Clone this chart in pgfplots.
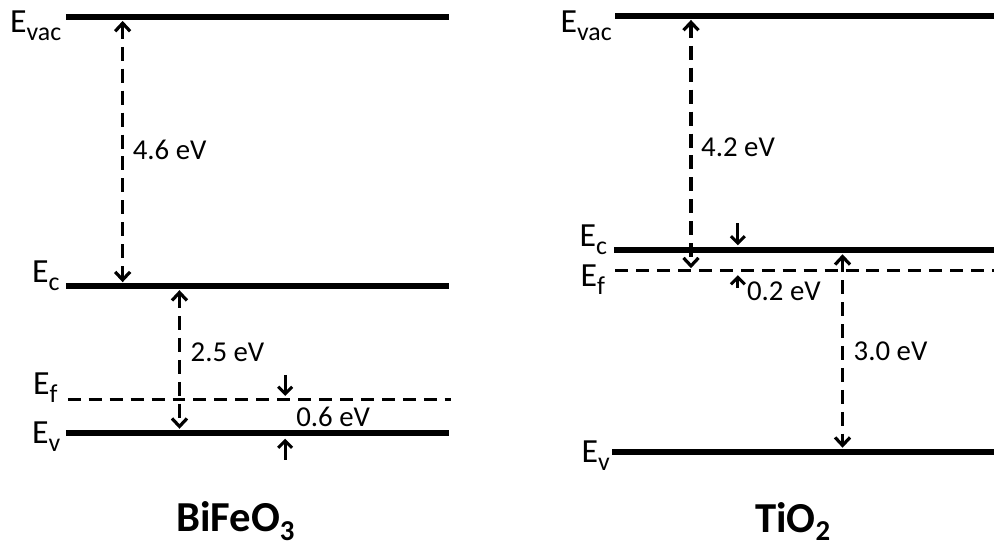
\documentclass[border=0pt]{standalone}
\usepackage{fontspec}
\setmainfont{Carlito}
\usepackage{pgfplots}
\pgfplotsset{compat=1.18}
\usetikzlibrary{arrows.meta}
\newcommand{\lvl}[1]{{\fontsize{34}{34}\selectfont E\raisebox{-8bp}{\fontsize{26}{26}\selectfont #1}}}
\newcommand{\ev}[1]{{\fontsize{29}{29}\selectfont #1}}
\begin{document}
\begin{tikzpicture}
\begin{axis}[scale only axis, width=997bp, height=552bp,
  xmin=0, xmax=997, ymin=0, ymax=552, y dir=reverse,
  hide axis, clip=false]
\addplot[draw=none, forget plot] coordinates {(0,0) (997,552)};
% ---- BiFeO3 levels
\addplot[black, line width=5.8bp] coordinates {(66,17) (450,17)};
\addplot[black, line width=5.8bp] coordinates {(66,287) (450,287)};
\addplot[black, line width=3.2bp, dash pattern=on 13bp off 8bp] coordinates {(68,401) (452,401)};
\addplot[black, line width=5.8bp] coordinates {(66,434) (450,434)};
% ---- TiO2 levels
\addplot[black, line width=5.8bp] coordinates {(617,16) (997,16)};
\addplot[black, line width=5.8bp] coordinates {(616,251) (997,251)};
\addplot[black, line width=3.2bp, dash pattern=on 13bp off 8bp] coordinates {(617,271) (997,271)};
\addplot[black, line width=5.8bp] coordinates {(614,453) (997,453)};
% ---- dashed double arrows
\pgfplotsset{darr/.style={black, line width=3.2bp, dash pattern=on 14bp off 8bp,
  {Straight Barb[length=8bp,width=15bp]}-{Straight Barb[length=8bp,width=15bp]}}}
\addplot[darr] coordinates {(123,21) (123,283)};
\addplot[darr] coordinates {(180,291) (180,430)};
\addplot[darr] coordinates {(693,20) (693,269)};
\addplot[darr] coordinates {(845,255) (845,449)};
% ---- small solid arrows
\pgfplotsset{sarr/.style={black, line width=3bp, -{Straight Barb[length=7bp,width=14bp]}}}
\addplot[sarr] coordinates {(286,376) (286,397)};
\addplot[sarr] coordinates {(286,461) (286,440)};
\addplot[sarr] coordinates {(740,224) (740,246)};
\addplot[sarr] coordinates {(740,289) (740,276)};
% ---- labels
\node[anchor=base west, inner sep=0] at (axis cs:10,33) {\lvl{vac}};
\node[anchor=base west, inner sep=0] at (axis cs:32,283) {\lvl{c}};
\node[anchor=base west, inner sep=0] at (axis cs:33,396) {\lvl{f}};
\node[anchor=base west, inner sep=0] at (axis cs:32,445) {\lvl{v}};
\node[anchor=base west, inner sep=0] at (axis cs:562,33) {\lvl{vac}};
\node[anchor=base west, inner sep=0] at (axis cs:581,247) {\lvl{c}};
\node[anchor=base west, inner sep=0] at (axis cs:582,287) {\lvl{f}};
\node[anchor=base west, inner sep=0] at (axis cs:583,464) {\lvl{v}};
\node[anchor=west, inner sep=0] at (axis cs:133,150) {\ev{4.6 eV}};
\node[anchor=west, inner sep=0] at (axis cs:191,353) {\ev{2.5 eV}};
\node[anchor=west, inner sep=0] at (axis cs:297,418) {\ev{0.6 eV}};
\node[anchor=west, inner sep=0] at (axis cs:703,148) {\ev{4.2 eV}};
\node[anchor=west, inner sep=0] at (axis cs:856,352) {\ev{3.0 eV}};
\node[anchor=west, inner sep=0] at (axis cs:749,292) {\ev{0.2 eV}};
\node[inner sep=0] at (axis cs:236,523) {\fontsize{43}{43}\selectfont\bfseries BiFeO\raisebox{-9bp}{\fontsize{29}{29}\selectfont 3}};
\node[inner sep=0] at (axis cs:795,523) {\fontsize{43}{43}\selectfont\bfseries TiO\raisebox{-9bp}{\fontsize{29}{29}\selectfont 2}};
\end{axis}
\end{tikzpicture}
\end{document}
